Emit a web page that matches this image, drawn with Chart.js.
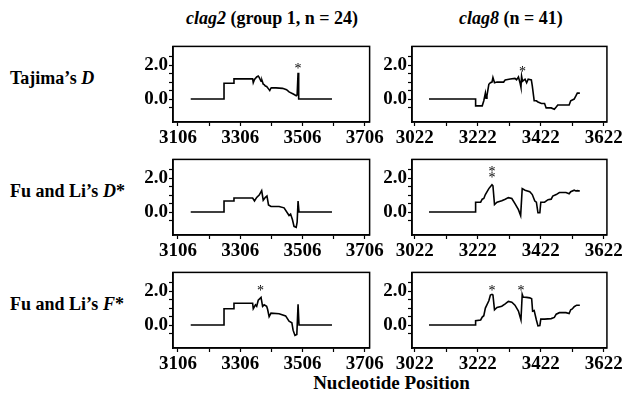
<!DOCTYPE html>
<html>
<head>
<meta charset="utf-8">
<script src="https://cdn.jsdelivr.net/npm/chart.js@4.4.1/dist/chart.umd.min.js"></script>
<style>
  html, body { margin: 0; padding: 0; background: #fff; }
  body { width: 627px; height: 401px; position: relative; overflow: hidden;
         font-family: "Liberation Serif", "Times New Roman", serif; font-weight: bold; color: #000; }
  .lbl { position: absolute; white-space: nowrap; font-size: 18px; line-height: 20px; }
  .ttl { position: absolute; white-space: nowrap; font-size: 18px; line-height: 20px; text-align: center; }
  canvas { position: absolute; }
</style>
</head>
<body>
<div class="ttl" style="left:173px;width:198px;top:8px;"><i>clag2</i> (group 1, n = 24)</div>
<div class="ttl" style="left:412px;width:198px;top:8px;"><i>clag8</i> (n = 41)</div>
<div class="lbl" style="left:10px;top:68px;">Tajima’s <i>D</i></div>
<div class="lbl" style="left:10px;top:181px;">Fu and Li’s <i>D</i>*</div>
<div class="lbl" style="left:10px;top:294px;">Fu and Li’s <i>F</i>*</div>
<div class="ttl" style="left:173px;width:437px;top:373px;font-size:19px;">Nucleotide Position</div>

<canvas id="c0"></canvas><canvas id="c1"></canvas>
<canvas id="c2"></canvas><canvas id="c3"></canvas>
<canvas id="c4"></canvas><canvas id="c5"></canvas>

<script>
// clag2 (group 1) - left column
const clag2TajimaX = [3147, 3254, 3254, 3286, 3286, 3346, 3348, 3352, 3359, 3364, 3367, 3373, 3376, 3380, 3383, 3387, 3391, 3397, 3401, 3405, 3408, 3421, 3442, 3455, 3463, 3478, 3486, 3489, 3492, 3494, 3601];
const clag2TajimaY = [0, 0, 0.93, 0.93, 1.19, 1.19, 0.96, 1.15, 1.30, 1.35, 1.28, 1.05, 1.10, 0.88, 0.85, 0.77, 0.74, 0.60, 0.50, 0.65, 0.66, 0.66, 0.63, 0.55, 0.42, 0.28, 0.20, 0.25, 1.55, 0, 0];

const clag2FuLiDX = [3147, 3254, 3254, 3286, 3286, 3346, 3352, 3359, 3367, 3375, 3380, 3387, 3392, 3397, 3405, 3431, 3447, 3463, 3468, 3474, 3479, 3486, 3489, 3492, 3495, 3601];
const clag2FuLiDY = [0, 0, 0.65, 0.65, 0.83, 0.83, 0.65, 0.86, 1.00, 1.26, 0.70, 0.87, 0.95, 0.42, 0.33, 0.33, 0.25, -0.20, -0.12, -0.45, -0.84, -0.90, -0.60, 0.65, 0, 0];

const clag2FuLiFX = [3147, 3254, 3254, 3286, 3286, 3346, 3348, 3355, 3359, 3364, 3373, 3378, 3383, 3391, 3394, 3399, 3405, 3431, 3452, 3463, 3472, 3476, 3482, 3488, 3492, 3495, 3601];
const clag2FuLiFY = [0, 0, 0.96, 0.96, 1.28, 1.28, 0.96, 1.19, 1.10, 1.46, 1.63, 1.10, 1.19, 1.10, 0.93, 0.49, 0.70, 0.67, 0.54, 0.23, 0.14, -0.30, -0.61, -0.55, 1.23, 0, 0];

// clag8 - right column
const clag8TajimaX = [3067, 3215, 3215, 3236, 3241, 3246, 3248, 3251, 3257, 3262, 3267, 3270, 3275, 3283, 3304, 3309, 3325, 3340, 3345, 3351, 3356, 3359, 3361, 3364, 3372, 3377, 3382, 3392, 3395, 3401, 3408, 3413, 3424, 3434, 3439, 3455, 3465, 3471, 3476, 3512, 3517, 3528, 3533, 3538, 3546];
const clag8TajimaY = [0, 0, -0.40, -0.40, -0.10, 0.35, 0.05, 0.20, 0.87, 0.96, 1.00, 1.27, 0.96, 1.00, 1.00, 1.13, 1.18, 1.22, 1.13, 1.30, 0.96, 0.70, 1.34, 1.05, 1.17, 0.96, 1.17, 1.13, 0.78, -0.10, -0.10, -0.17, -0.26, -0.26, -0.52, -0.52, -0.60, -0.47, -0.35, -0.35, -0.10, 0, 0.17, 0.35, 0.35];

const clag8FuLiDX = [3067, 3215, 3215, 3231, 3236, 3241, 3246, 3257, 3267, 3270, 3275, 3283, 3298, 3309, 3319, 3330, 3340, 3351, 3358, 3363, 3372, 3387, 3395, 3403, 3408, 3413, 3419, 3422, 3434, 3445, 3455, 3460, 3471, 3481, 3502, 3512, 3517, 3528, 3533, 3538, 3546];
const clag8FuLiDY = [0, 0, 0.58, 0.58, 0.76, 0.80, 1.03, 1.38, 1.61, 1.55, 0.44, 0.58, 0.67, 0.76, 0.85, 0.80, 0.50, 0.14, -0.21, 1.38, 1.29, 1.20, 1.03, 0.65, 0.58, -0.04, -0.04, 0.58, 0.58, 0.73, 0.76, 0.94, 1.03, 1.15, 1.15, 1.08, 1.20, 1.29, 1.24, 1.26, 1.24];

const clag8FuLiFX = [3067, 3215, 3215, 3231, 3236, 3241, 3246, 3257, 3262, 3267, 3270, 3275, 3283, 3298, 3309, 3319, 3330, 3340, 3351, 3359, 3363, 3366, 3377, 3387, 3393, 3396, 3401, 3408, 3413, 3419, 3422, 3434, 3455, 3465, 3471, 3481, 3502, 3512, 3517, 3522, 3528, 3536, 3546];
const clag8FuLiFY = [0, 0, 0.26, 0.30, 0.47, 0.55, 1.00, 1.43, 1.77, 1.81, 1.77, 0.90, 1.04, 1.11, 1.25, 1.39, 1.35, 1.17, 0.82, 0.30, 1.81, 1.65, 1.63, 1.60, 1.55, 0.82, 0.85, 0.30, -0.05, -0.03, 0.35, 0.35, 0.38, 0.45, 0.64, 0.73, 0.73, 0.68, 0.90, 0.95, 1.08, 1.17, 1.17];

// significance asterisks [x, y]
const clag2TajimaStars = [[3492, 1.95]];
const clag2FuLiDStars = [];
const clag2FuLiFStars = [[3371, 2.16]];
const clag8TajimaStars = [[3364, 1.75]];
const clag8FuLiDStars = [[3267, 2.50], [3267, 2.14]];
const clag8FuLiFStars = [[3267, 2.17], [3359, 2.17]];

const clag2Ticks = [3106, 3306, 3506, 3706];
const clag8Ticks = [3022, 3222, 3422, 3622];
const yTickLabels = [0, 2];

const FONT = '"Liberation Serif", "Times New Roman", serif';
const ROW_TOPS = [38, 151, 264];
const COLS = [
  { left: 173, width: 198, min: 3090, max: 3722, ticks: clag2Ticks },
  { left: 412, width: 198, min: 3013, max: 3632, ticks: clag8Ticks },
];
const BOX_H = 84;
const Y_AXIS_W = 52;
const X_AXIS_H = 30;

const panels = [
  [clag2TajimaX, clag2TajimaY, clag2TajimaStars, 0, 0],
  [clag8TajimaX, clag8TajimaY, clag8TajimaStars, 0, 1],
  [clag2FuLiDX, clag2FuLiDY, clag2FuLiDStars, 1, 0],
  [clag8FuLiDX, clag8FuLiDY, clag8FuLiDStars, 1, 1],
  [clag2FuLiFX, clag2FuLiFY, clag2FuLiFStars, 2, 0],
  [clag8FuLiFX, clag8FuLiFY, clag8FuLiFStars, 2, 1],
];

const framePlugin = {
  id: 'frame',
  afterDraw(chart, args, opts) {
    const { ctx, chartArea: a, scales } = chart;
    ctx.save();
    ctx.strokeStyle = '#000';
    ctx.lineWidth = 1.5;
    ctx.strokeRect(a.left, a.top, a.right - a.left, a.bottom - a.top);
    ctx.font = '14px ' + FONT;
    ctx.fillStyle = '#000';
    ctx.textAlign = 'center';
    ctx.textBaseline = 'middle';
    (opts.stars || []).forEach(([x, y]) => {
      ctx.fillText('*', scales.x.getPixelForValue(x), scales.y.getPixelForValue(y) + 3);
    });
    ctx.restore();
  },
};

panels.forEach(([xs, ys, stars, row, colIdx], i) => {
  const col = COLS[colIdx];
  const canvas = document.getElementById('c' + i);
  const w = Y_AXIS_W + col.width + 14;
  const h = BOX_H + X_AXIS_H + 4;
  canvas.width = w;
  canvas.height = h;
  canvas.style.left = (col.left - Y_AXIS_W) + 'px';
  canvas.style.top = (ROW_TOPS[row] - 4) + 'px';
  canvas.style.width = w + 'px';
  canvas.style.height = h + 'px';

  new Chart(canvas, {
    type: 'line',
    data: {
      datasets: [{
        data: xs.map((x, j) => ({ x, y: ys[j] })),
        borderColor: '#000',
        borderWidth: 1.6,
        pointRadius: 0,
        tension: 0,
        fill: false,
      }],
    },
    options: {
      responsive: false,
      animation: false,
      events: [],
      layout: { padding: { top: 4, right: 14, left: 0, bottom: 0 } },
      plugins: {
        legend: { display: false },
        tooltip: { enabled: false },
        frame: { stars },
      },
      scales: {
        x: {
          type: 'linear',
          min: col.min,
          max: col.max,
          afterBuildTicks: (s) => {
            const t = [];
            for (let v = col.ticks[0]; v <= col.ticks[col.ticks.length - 1]; v += 100) t.push({ value: v });
            s.ticks = t;
          },
          afterFit: (s) => { s.height = X_AXIS_H; },
          grid: { drawOnChartArea: false, drawTicks: true, tickLength: 4, tickColor: '#000', tickWidth: 1.2 },
          border: { display: true, color: '#000', width: 1.5 },
          ticks: {
            autoSkip: false,
            maxRotation: 0,
            padding: 1,
            color: '#000',
            font: { family: FONT, size: 19, weight: 'bold' },
            callback: (v) => (col.ticks.includes(v) ? String(v) : ''),
          },
        },
        y: {
          type: 'linear',
          min: -1.35,
          max: 3.1,
          afterBuildTicks: (s) => {
            const t = [];
            for (let v = -0.5; v <= 2.51; v += 0.5) t.push({ value: Math.round(v * 10) / 10 });
            s.ticks = t;
          },
          afterFit: (s) => { s.width = Y_AXIS_W; },
          grid: { drawOnChartArea: false, drawTicks: true, tickLength: 4, tickColor: '#000', tickWidth: 1.2 },
          border: { display: true, color: '#000', width: 1.5 },
          ticks: {
            autoSkip: false,
            padding: 1,
            color: '#000',
            font: { family: FONT, size: 19, weight: 'bold' },
            callback: (v) => (yTickLabels.includes(v) ? v.toFixed(1) : ''),
          },
        },
      },
    },
    plugins: [framePlugin],
  });
});
</script>
</body>
</html>
